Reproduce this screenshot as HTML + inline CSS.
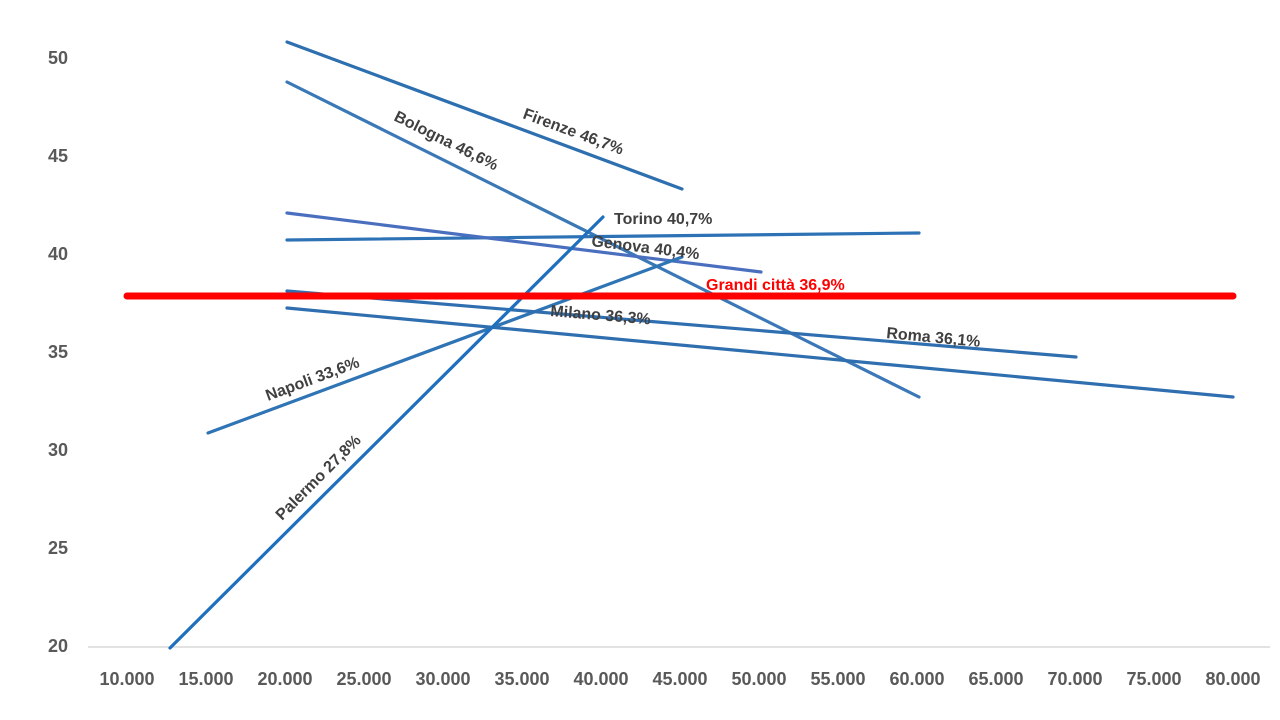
<!DOCTYPE html>
<html><head><style>body{margin:0;background:#fff}svg{display:block}text{font-family:"Liberation Sans",sans-serif;font-weight:bold}</style></head><body>
<svg width="1280" height="720" viewBox="0 0 1280 720">
<line x1="88" y1="647" x2="1270" y2="647" stroke="#d9d9d9" stroke-width="1.5"/>
<g fill="#595959" font-size="18" text-anchor="end">
<text x="68" y="64">50</text><text x="68" y="162">45</text><text x="68" y="260">40</text><text x="68" y="358">35</text><text x="68" y="456">30</text><text x="68" y="554">25</text><text x="68" y="652">20</text>
</g>
<g fill="#595959" font-size="18" text-anchor="middle">
<text x="127" y="685">10.000</text><text x="206" y="685">15.000</text><text x="285" y="685">20.000</text><text x="364" y="685">25.000</text><text x="443" y="685">30.000</text><text x="522" y="685">35.000</text><text x="601" y="685">40.000</text><text x="680" y="685">45.000</text><text x="759" y="685">50.000</text><text x="838" y="685">55.000</text><text x="917" y="685">60.000</text><text x="996" y="685">65.000</text><text x="1075" y="685">70.000</text><text x="1154" y="685">75.000</text><text x="1233" y="685">80.000</text>
</g>
<g stroke-width="3.2" fill="none" stroke-linecap="round">
<line x1="287" y1="42" x2="682" y2="189" stroke="#2e6fb0"/>
<line x1="287" y1="82" x2="919" y2="397" stroke="#3a78b8"/>
<line x1="287" y1="240" x2="919" y2="233" stroke="#2e72b6"/>
<line x1="287" y1="213" x2="761" y2="272" stroke="#4a6fbf"/>
<line x1="208" y1="433" x2="682" y2="257" stroke="#2f74b5"/>
<line x1="287" y1="291" x2="1076" y2="357" stroke="#2f6fb0"/>
<line x1="287" y1="308" x2="1233" y2="397" stroke="#2f6fb0"/>
<line x1="170" y1="648" x2="603" y2="217" stroke="#1f6fbf"/>
<line x1="127" y1="296" x2="1233" y2="296" stroke="#ff0000" stroke-width="7"/>
</g>
<g fill="#404040" font-size="16">
<text transform="translate(522,118) rotate(20.4)">Firenze 46,7%</text>
<text transform="translate(393,120) rotate(26.5)">Bologna 46,6%</text>
<text x="614" y="224">Torino 40,7%</text>
<text transform="translate(591,246) rotate(7)">Genova 40,4%</text>
<text transform="translate(550,316) rotate(4.8)">Milano 36,3%</text>
<text transform="translate(886,338) rotate(5.4)">Roma 36,1%</text>
<text transform="translate(268,401) rotate(-20.4)">Napoli 33,6%</text>
<text transform="translate(282,521) rotate(-45)">Palermo 27,8%</text>
<text x="706" y="290" fill="#ff0000">Grandi città 36,9%</text>
</g>
</svg>
</body></html>
